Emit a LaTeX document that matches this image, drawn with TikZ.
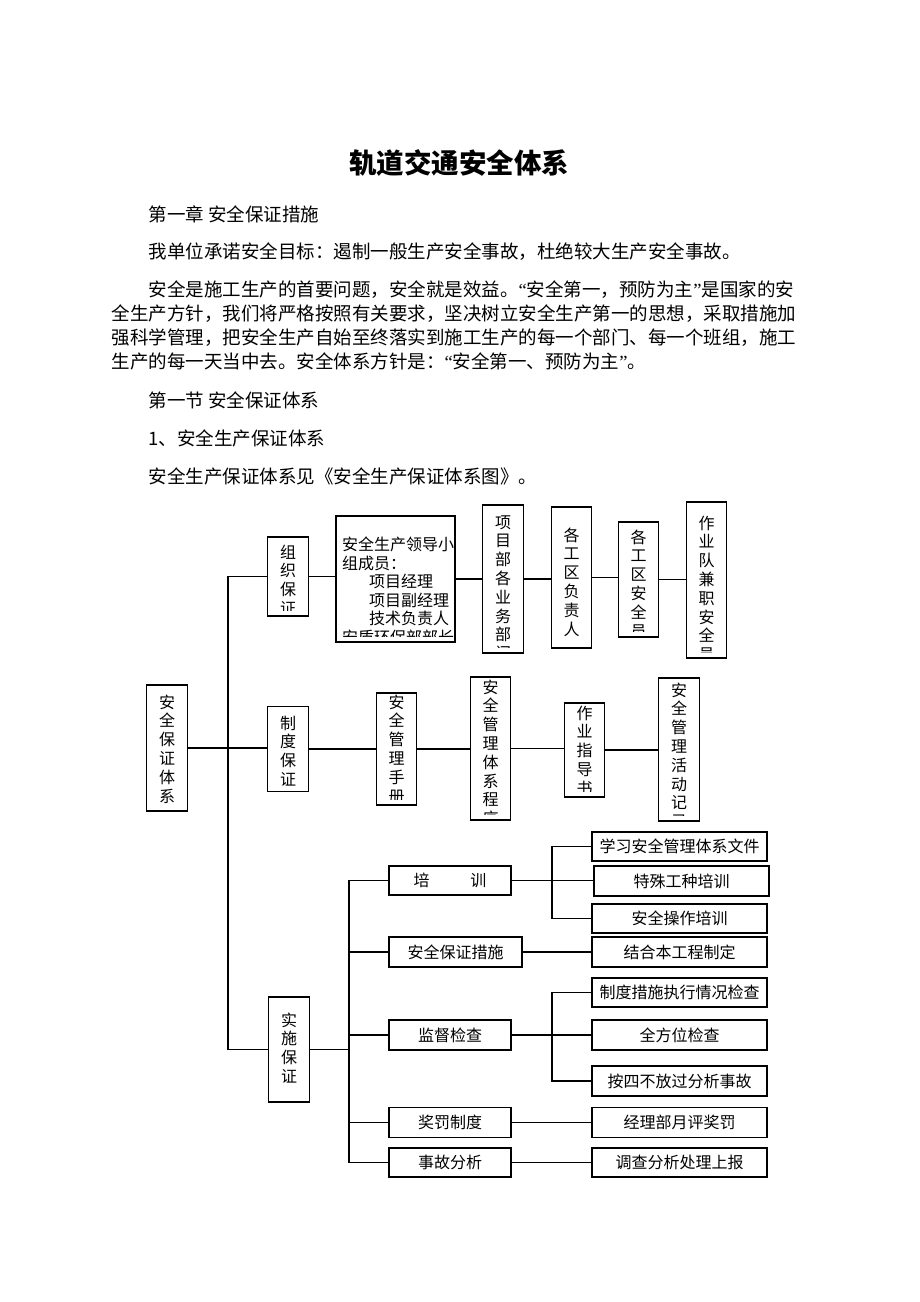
\documentclass[tikz,border=0pt]{standalone}
\usepackage{fontspec}
\setmainfont{Noto Sans CJK SC}
\newfontfamily\latinq{Liberation Serif}

\begin{document}
\begin{tikzpicture}[x=1pt, y=-1pt, line width=1.2pt,
    body/.style={anchor=west, inner sep=0pt, font=\fontsize{18.5}{22}\selectfont},
    vbox/.style n args={3}{draw, minimum width=40.5pt, minimum height=#1pt, inner sep=0pt,
      path picture={\clip ([yshift=6pt]path picture bounding box.south west) rectangle (path picture bounding box.north east);
        \foreach \c [count=\i from 0] in {#3}
          \node[anchor=base, inner sep=0pt, font=\fontsize{16}{18}\selectfont]
            at ([yshift={(-#2-6-\i*18.8)*1pt}]path picture bounding box.north) {\c};}},
    hbox/.style 2 args={draw, minimum width=#1pt, minimum height=#2pt, inner sep=0pt, font=\fontsize{16}{19}\selectfont}]
    \useasboundingbox[fill=white] (0,0) rectangle (920,1302);

    % page text
    \node[inner sep=0pt, font=\fontsize{27.5}{30}\selectfont\bfseries] (title) at (459,163) {轨道交通安全体系};
    \node[body] (ch1) at (148,214) {第一章 安全保证措施};
    \node[body] (goal) at (148,252) {我单位承诺安全目标：遏制一般生产安全事故，杜绝较大生产安全事故。};
    \node[body] (p1) at (148,290) {安全是施工生产的首要问题，安全就是效益。{\latinq “}安全第一，预防为主{\latinq ”}是国家的安};
    \node[body] (p2) at (111,314) {全生产方针，我们将严格按照有关要求，坚决树立安全生产第一的思想，采取措施加};
    \node[body] (p3) at (111,338) {强科学管理，把安全生产自始至终落实到施工生产的每一个部门、每一个班组，施工};
    \node[body] (p4) at (111,361) {生产的每一天当中去。安全体系方针是：{\latinq “}安全第一、预防为主{\latinq ”}。};
    \node[body] (sec1) at (148,400) {第一节 安全保证体系};
    \node[body] (item1) at (148,438) {1、安全生产保证体系};
    \node[body] (see) at (148,476) {安全生产保证体系见《安全生产保证体系图》。};

    % first row
    \node[vbox={79}{15}{组,织,保,证}] (zuzhi) at (288,576.5) {};
    \node[draw, minimum width=119pt, minimum height=126pt, inner sep=0pt,
      path picture={\clip ([yshift=6pt]path picture bounding box.south west) rectangle (path picture bounding box.north east);
        \node[anchor=north west, align=left, inner sep=0pt, font=\fontsize{16}{18.5}\selectfont]
          at ([xshift=2pt, yshift=-11pt]path picture bounding box.north west)
          {安全生产领导小\\组成员：\\\hspace*{27pt}项目经理\\\hspace*{27pt}项目副经理\\\hspace*{27pt}技术负责人\\安质环保部部长};}] (lingdao) at (395.5,579) {};
    \node[vbox={148}{17}{项,目,部,各,业,务,部,门}] (xiangmubu) at (503,579) {};
    \node[vbox={141}{28}{各,工,区,负,责,人}] (gequ) at (571.5,577.5) {};
    \node[vbox={115}{15}{各,工,区,安,全,员}] (anquanyuan) at (638.5,579.5) {};
    \node[vbox={156}{21}{作,业,队,兼,职,安,全,员}] (zuoyedui) at (706.5,580) {};

    % second row
    \node[vbox={126}{17}{安,全,保,证,体,系}] (root) at (167,748) {};
    \node[vbox={85}{16.5}{制,度,保,证}] (zhidu) at (288,749) {};
    \node[vbox={112}{9}{安,全,管,理,手,册}] (shouce) at (396.5,749) {};
    \node[vbox={143}{10}{安,全,管,理,体,系,程,序}] (chengxu) at (490.5,748.5) {};
    \node[vbox={94}{10}{作,业,指,导,书}] (zhidaoshu) at (584.5,750) {};
    \node[vbox={143}{12}{安,全,管,理,活,动,记,录}] (jilu) at (679,749.5) {};

    % third row
    \node[vbox={105}{23}{实,施,保,证}] (shishi) at (289,1049.5) {};
    \node[hbox={122}{29}] (peixun) at (450,880.5) {培\hspace{41pt}训};
    \node[hbox={133}{30}] (cuoshi) at (455.5,952) {安全保证措施};
    \node[hbox={122}{30}] (jiandu) at (450,1035) {监督检查};
    \node[hbox={122}{30}] (jiangfa) at (450,1122.5) {奖罚制度};
    \node[hbox={122}{29}] (shigu) at (450,1162.5) {事故分析};
    \node[hbox={175}{29}] (r1) at (679.5,846.5) {学习安全管理体系文件};
    \node[hbox={175}{30}] (r2) at (681.5,881) {特殊工种培训};
    \node[hbox={175}{29}] (r3) at (679.5,918.5) {安全操作培训};
    \node[hbox={175}{30}] (r4) at (679.5,952) {结合本工程制定};
    \node[hbox={175}{29}] (r5) at (679.5,992.5) {制度措施执行情况检查};
    \node[hbox={175}{30}] (r6) at (679.5,1035) {全方位检查};
    \node[hbox={175}{30}] (r7) at (679.5,1081) {按四不放过分析事故};
    \node[hbox={175}{30}] (r8) at (679.5,1122.5) {经理部月评奖罚};
    \node[hbox={175}{29}] (r9) at (679.5,1162.5) {调查分析处理上报};

    \coordinate (trunk) at (228,748);
    \coordinate (sub) at (349,1049.5);
    \coordinate (sub2) at (552,881);
    \coordinate (sub3) at (552,1035);

    % connect the boxes
    \draw (zuzhi.west) -| (trunk) |- (shishi.west);
    \draw (root.east) -- (root.east -| zhidu.west);
    \foreach \a/\b in {zuzhi/lingdao, lingdao/xiangmubu, xiangmubu/gequ, gequ/anquanyuan, anquanyuan/zuoyedui,
        zhidu/shouce, shouce/chengxu, chengxu/zhidaoshu, zhidaoshu/jilu}
      \draw (\a.east) -- (\a.east -| \b.west);
    \draw (shishi.east) -- (sub);
    \draw (peixun.west) -| (sub) |- (shigu.west);
    \foreach \n in {cuoshi, jiandu, jiangfa}
      \draw (\n.west -| sub) -- (\n.west);
    \draw (r1.west) -| (sub2) |- (r3.west);
    \draw (r5.west) -| (sub3) |- (r7.west);
    \draw (peixun.east) -- (peixun.east -| r2.west);
    \draw (cuoshi.east) -- (r4.west);
    \draw (jiandu.east) -- (r6.west);
    \draw (jiangfa.east) -- (r8.west);
    \draw (shigu.east) -- (r9.west);
\end{tikzpicture}
\end{document}
